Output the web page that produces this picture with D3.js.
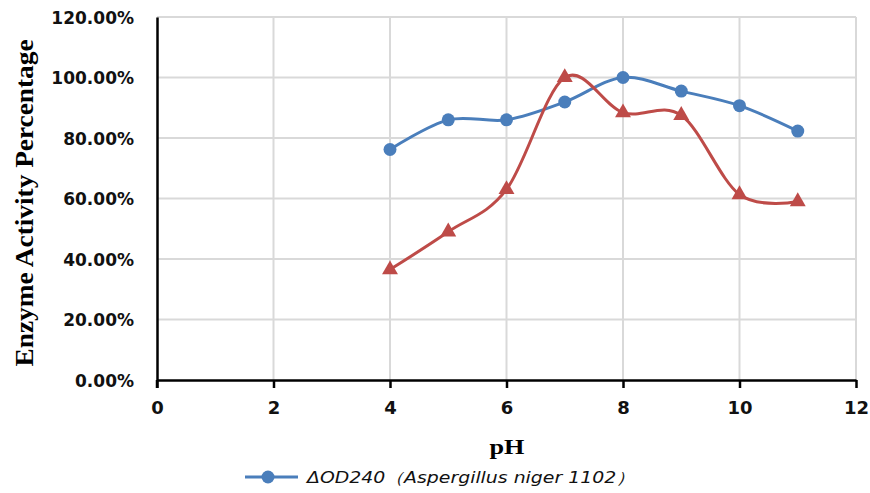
<!DOCTYPE html>
<html>
<head>
<meta charset="utf-8">
<script src="https://cdn.jsdelivr.net/npm/d3@7"></script>
<style>
  body { margin: 0; background: #fff; }
  .tick-label { font-family: "DejaVu Sans", sans-serif; font-weight: bold; font-size: 17px; fill: #111; }
  .grid line { stroke: #d9d9d9; stroke-width: 2; }
</style>
</head>
<body>
<svg id="chart" width="870" height="493"></svg>
<script>
// pH values and activity (fraction of max)
var phValues = [4, 5, 6, 7, 8, 9, 10, 11];
var blueActivity = [0.762, 0.860, 0.860, 0.919, 1.000, 0.955, 0.907, 0.823];
var redActivity = [0.365, 0.490, 0.630, 1.000, 0.884, 0.875, 0.613, 0.590];
var xTicks = [0, 2, 4, 6, 8, 10, 12];
var yTicks = [0, 0.2, 0.4, 0.6, 0.8, 1.0, 1.2];
var legendLabel = "ΔOD240（Aspergillus niger 1102）";

var svg = d3.select("#chart");

var x = d3.scaleLinear().domain([0, 12]).range([157, 856]);
var y = d3.scaleLinear().domain([0, 1.2]).range([380, 17]);

// gridlines
var grid = svg.append("g").attr("class", "grid");
grid.selectAll(".h").data(yTicks.slice(1))
  .enter().append("line")
    .attr("x1", x(0)).attr("x2", x(12))
    .attr("y1", function(d) { return y(d); })
    .attr("y2", function(d) { return y(d); });
grid.selectAll(".v").data(xTicks.slice(1))
  .enter().append("line")
    .attr("x1", function(d) { return x(d); })
    .attr("x2", function(d) { return x(d); })
    .attr("y1", y(0)).attr("y2", y(1.2));

// x axis
var xAxis = svg.append("g")
    .attr("transform", "translate(0," + y(0) + ")")
    .call(d3.axisBottom(x).tickValues(xTicks).tickSize(8).tickSizeOuter(0).tickPadding(13));
xAxis.select(".domain").attr("stroke", "#000").attr("stroke-width", 2.5);
xAxis.selectAll(".tick line").attr("stroke", "#000").attr("stroke-width", 2.5);
xAxis.selectAll(".tick text").attr("class", "tick-label").style("font-size", "18px");

// y axis
var yAxis = svg.append("g")
    .attr("transform", "translate(" + x(0) + ",0)")
    .call(d3.axisLeft(y).tickValues(yTicks).tickSize(0).tickPadding(23)
      .tickFormat(function(d) { return (d * 100).toFixed(2) + "%"; }));
yAxis.select(".domain").attr("stroke", "#000").attr("stroke-width", 2.5);
yAxis.selectAll(".tick text").attr("class", "tick-label").attr("dy", "0.36em");
svg.append("line")
  .attr("x1", x(0)).attr("x2", x(0))
  .attr("y1", y(0)).attr("y2", y(0) + 8)
  .attr("stroke", "#000").attr("stroke-width", 2.5);

// axis titles
svg.append("text")
  .attr("transform", "translate(33,203) rotate(-90)")
  .attr("text-anchor", "middle")
  .attr("textLength", 327)
  .attr("lengthAdjust", "spacingAndGlyphs")
  .style("font-family", "'Liberation Serif', 'Times New Roman', serif")
  .style("font-weight", "bold")
  .style("font-size", "26px")
  .text("Enzyme Activity Percentage");

svg.append("text")
  .attr("x", 507).attr("y", 454)
  .attr("text-anchor", "middle")
  .attr("textLength", 35)
  .attr("lengthAdjust", "spacingAndGlyphs")
  .style("font-family", "'Liberation Serif', 'Times New Roman', serif")
  .style("font-weight", "bold")
  .style("font-size", "20px")
  .text("pH");

// series
var line = d3.line()
  .x(function(d) { return x(d[0]); })
  .y(function(d) { return y(d[1]); })
  .curve(d3.curveCardinal.tension(0));

var blueData = d3.zip(phValues, blueActivity);
var redData = d3.zip(phValues, redActivity);

svg.append("path").datum(blueData)
  .attr("d", line)
  .attr("fill", "none").attr("stroke", "#4a7ebb").attr("stroke-width", 3);

svg.append("path").datum(redData)
  .attr("d", line)
  .attr("fill", "none").attr("stroke", "#be4b48").attr("stroke-width", 3);

svg.selectAll(".dot").data(blueData)
  .enter().append("circle")
    .attr("class", "dot")
    .attr("cx", function(d) { return x(d[0]); })
    .attr("cy", function(d) { return y(d[1]); })
    .attr("r", 6.5)
    .attr("fill", "#4a7ebb");

var tri = d3.symbol().type(d3.symbolTriangle).size(110);
svg.selectAll(".tri").data(redData)
  .enter().append("path")
    .attr("class", "tri")
    .attr("transform", function(d) { return "translate(" + x(d[0]) + "," + y(d[1]) + ")"; })
    .attr("d", tri)
    .attr("fill", "#be4b48");

// legend
var legend = svg.append("g").attr("transform", "translate(245,477)");
legend.append("line")
  .attr("x1", 0).attr("x2", 53)
  .attr("stroke", "#4a7ebb").attr("stroke-width", 3);
legend.append("circle")
  .attr("cx", 23).attr("r", 6.5).attr("fill", "#4a7ebb");
legend.append("text")
  .attr("x", 62).attr("y", 6)
  .attr("textLength", 328)
  .attr("lengthAdjust", "spacingAndGlyphs")
  .style("font-family", "'DejaVu Sans', sans-serif")
  .style("font-style", "italic")
  .style("font-size", "16px")
  .style("fill", "#111")
  .text(legendLabel);
</script>
</body>
</html>
